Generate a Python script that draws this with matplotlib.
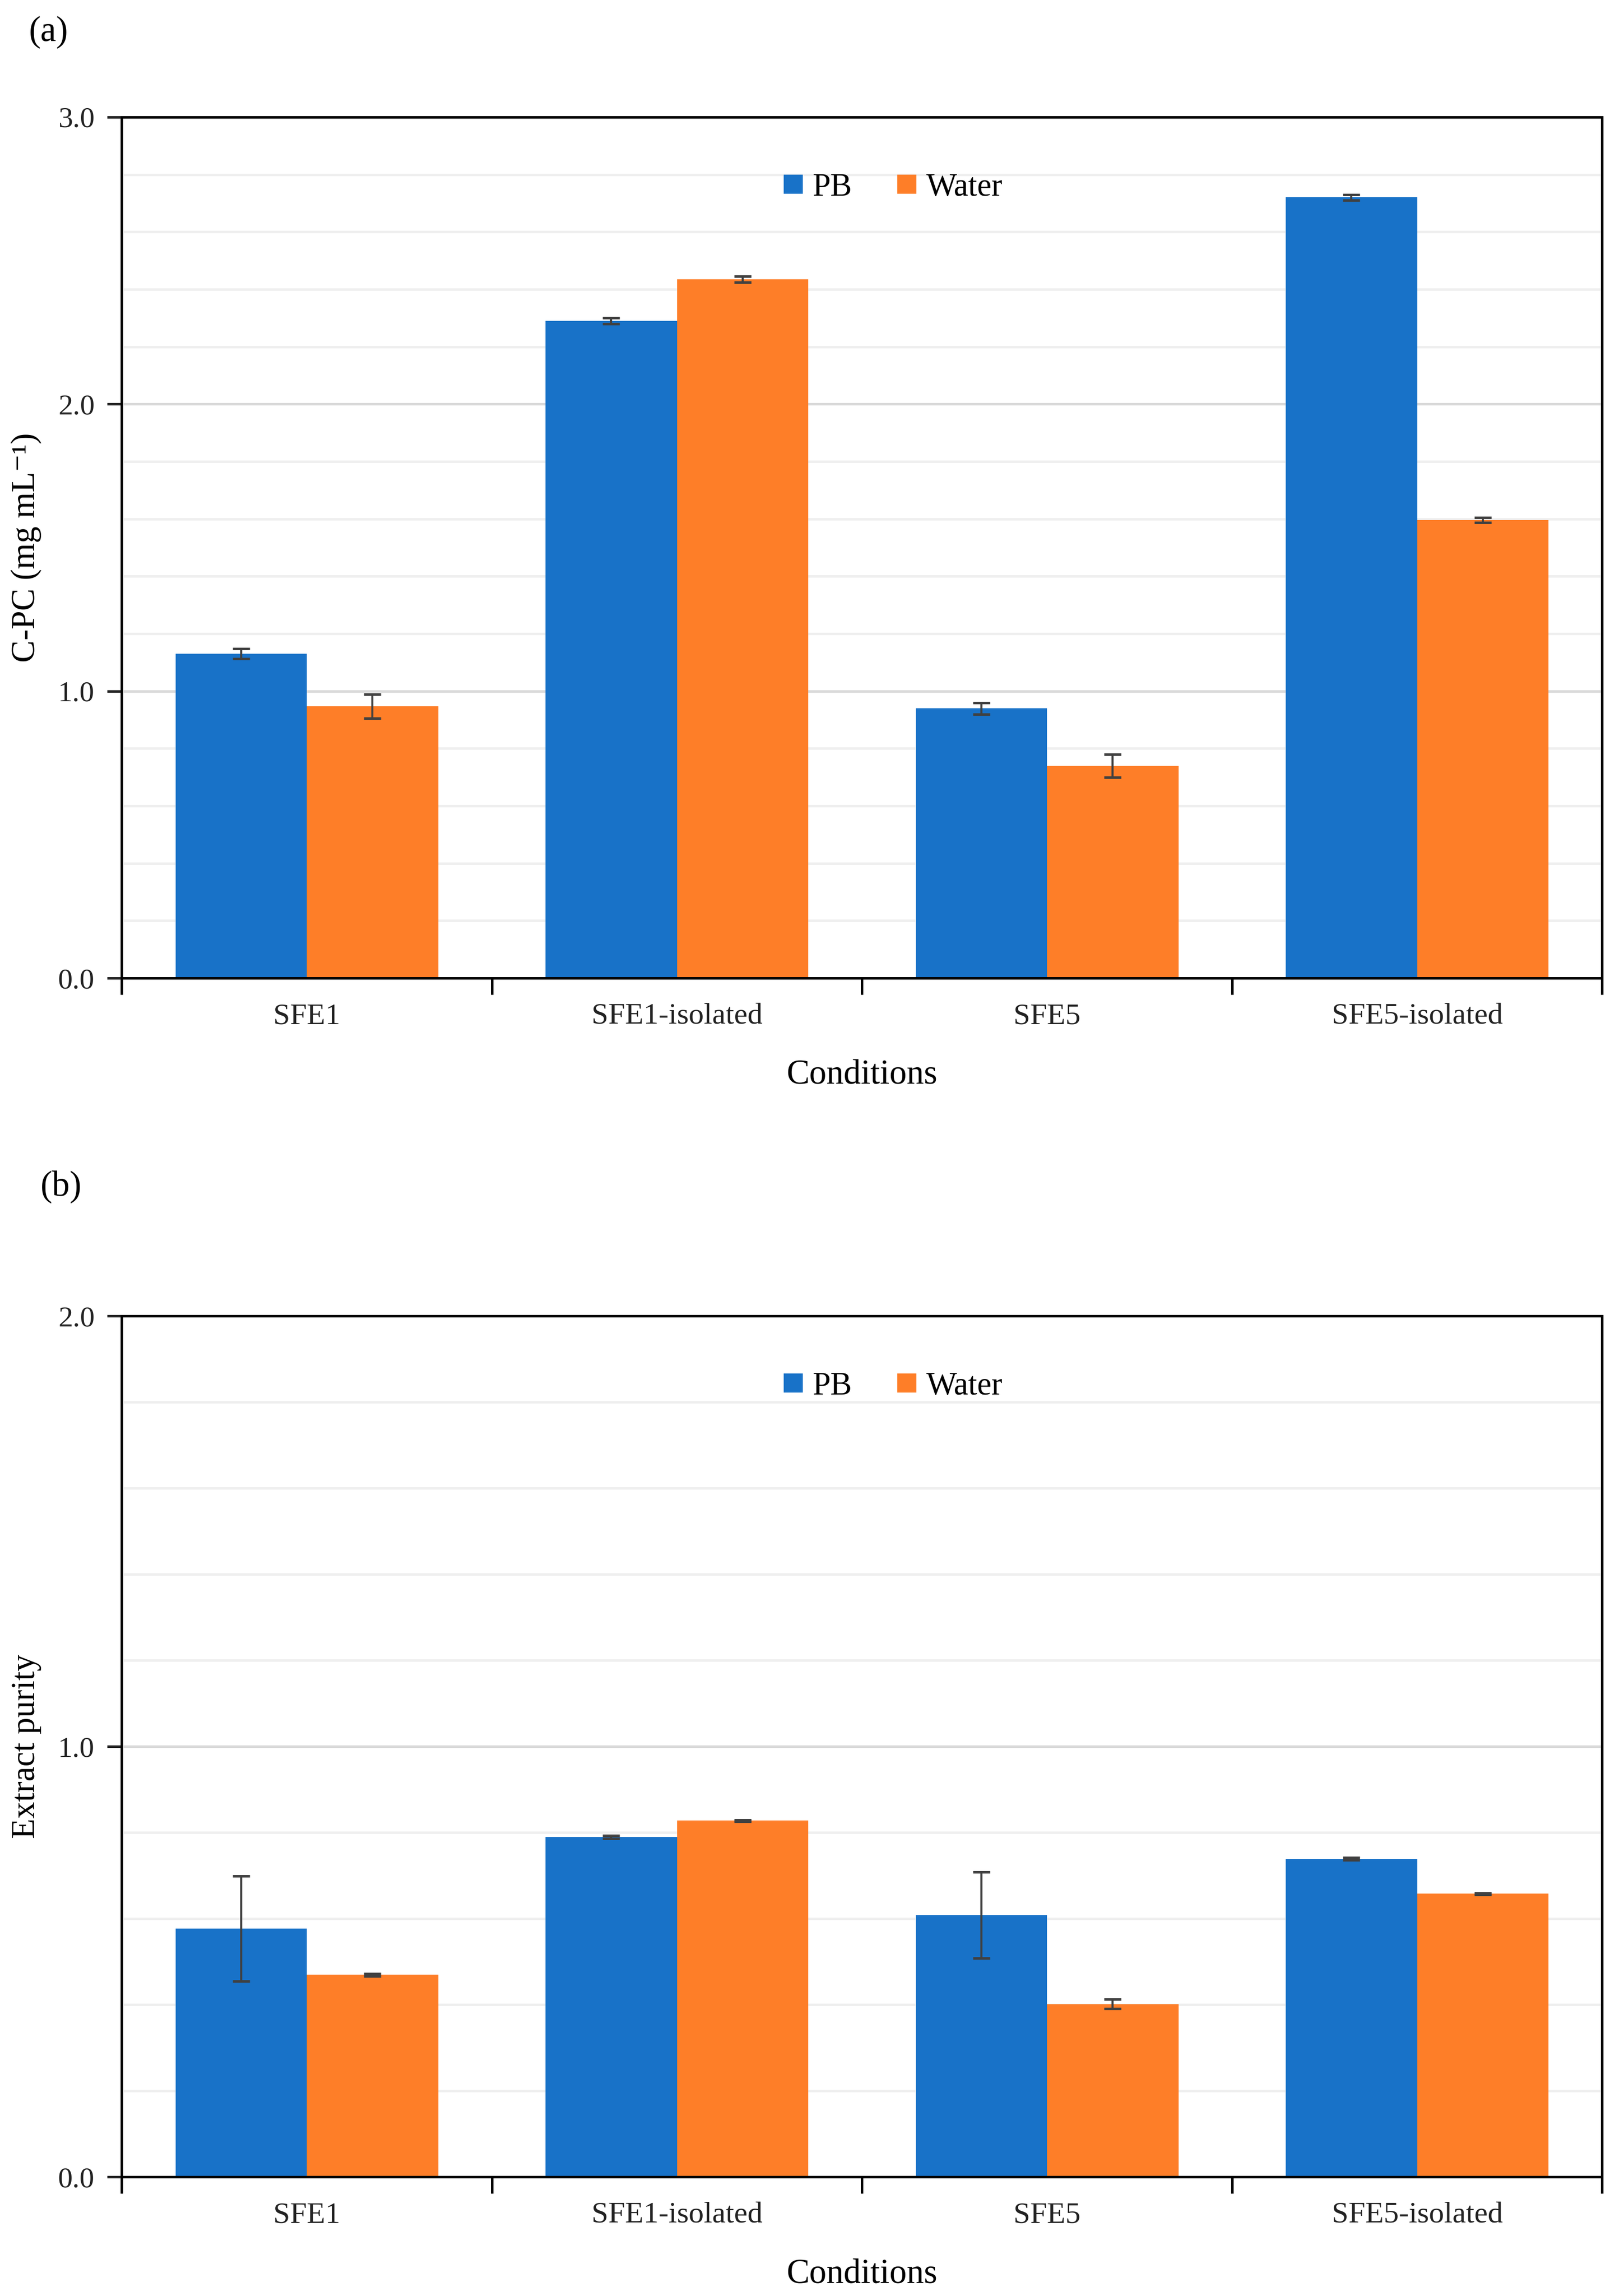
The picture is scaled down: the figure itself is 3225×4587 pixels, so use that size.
import matplotlib
matplotlib.use("Agg")
import matplotlib.pyplot as plt
import numpy as np
from matplotlib.ticker import MultipleLocator, FixedLocator, NullFormatter, FixedFormatter
from matplotlib.lines import Line2D

plt.rcParams["font.family"] = ["Liberation Serif", "DejaVu Serif"]

conditions = ["SFE1", "SFE1-isolated", "SFE5", "SFE5-isolated"]
series = ["PB", "Water"]

# panel (a): C-PC concentration
cpc_pb = [1.13, 2.29, 0.94, 2.72]
cpc_pb_err = [0.017, 0.01, 0.02, 0.01]
cpc_water = [0.947, 2.435, 0.74, 1.596]
cpc_water_err = [0.042, 0.01, 0.04, 0.008]

# panel (b): extract purity
pur_pb = [0.577, 0.79, 0.608, 0.739]
pur_pb_err = [0.122, 0.003, 0.10, 0.003]
pur_water = [0.470, 0.828, 0.402, 0.658]
pur_water_err = [0.003, 0.002, 0.011, 0.002]

BLUE = "#1872C8"
ORANGE = "#FE7E28"
ERR = "#404040"

fig = plt.figure(figsize=(10.75, 15.29), dpi=300)


def draw_panel(ax, pb, pb_err, water, water_err, ymax, ylabel):
    x = np.arange(len(conditions))
    w = 0.355
    ax.bar(x - w / 2, pb, w, color=BLUE, zorder=2)
    ax.bar(x + w / 2, water, w, color=ORANGE, zorder=2)
    ax.errorbar(x - w / 2, pb, yerr=pb_err, fmt="none", ecolor=ERR,
                elinewidth=1.0, capsize=4, capthick=1.2, zorder=3)
    ax.errorbar(x + w / 2, water, yerr=water_err, fmt="none", ecolor=ERR,
                elinewidth=1.0, capsize=4, capthick=1.2, zorder=3)

    ax.set_xlim(-0.5, len(conditions) - 0.5)
    ax.set_ylim(0, ymax)

    # y ticks / grid
    ax.yaxis.set_major_locator(MultipleLocator(1.0))
    ax.yaxis.set_minor_locator(MultipleLocator(0.2))
    ax.yaxis.set_major_formatter(plt.FuncFormatter(lambda v, p: f"{v:.1f}"))
    ax.grid(axis="y", which="minor", color="#EFEFEF", linewidth=1.2, zorder=0)
    ax.grid(axis="y", which="major", color="#D9D9D9", linewidth=1.2, zorder=0)
    ax.set_axisbelow(True)
    ax.tick_params(axis="y", which="major", direction="out", length=7, width=1.2,
                   labelsize=14, colors="#222222", pad=6)
    ax.tick_params(axis="y", which="minor", length=0)

    # x ticks: marks at category boundaries, labels at centres
    ax.xaxis.set_major_locator(FixedLocator(np.arange(-0.5, len(conditions), 1.0)))
    ax.xaxis.set_major_formatter(NullFormatter())
    ax.xaxis.set_minor_locator(FixedLocator(x))
    ax.xaxis.set_minor_formatter(FixedFormatter(conditions))
    ax.tick_params(axis="x", which="major", direction="out", length=8, width=1.2)
    ax.tick_params(axis="x", which="minor", length=0, labelsize=14.5,
                   colors="#222222", pad=12)

    for s in ax.spines.values():
        s.set_color("black")
        s.set_linewidth(1.2)

    ax.set_xlabel("Conditions", fontsize=16.5, labelpad=14)
    ax.set_ylabel(ylabel, fontsize=16, labelpad=8)

    handles = [Line2D([], [], marker="s", linestyle="none", markersize=8,
                      markerfacecolor=c, markeredgecolor=c) for c in (BLUE, ORANGE)]
    ax.legend(handles, series, loc="center", bbox_to_anchor=(0.521, 0.918),
              ncol=2, frameon=False, fontsize=15.5, handlelength=0.6,
              handletextpad=0.3, columnspacing=1.4)


ax_a = fig.add_axes([0.0755, 0.574, 0.9172, 0.375])
draw_panel(ax_a, cpc_pb, cpc_pb_err, cpc_water, cpc_water_err, 3.0,
           "C-PC (mg mL\u207b\u00b9)")
ax_b = fig.add_axes([0.0755, 0.0518, 0.9172, 0.375])
draw_panel(ax_b, pur_pb, pur_pb_err, pur_water, pur_water_err, 2.0,
           "Extract purity")

fig.text(0.018, 0.986, "(a)", fontsize=17, va="center", ha="left")
fig.text(0.025, 0.483, "(b)", fontsize=17, va="center", ha="left")

fig.savefig("out.png", dpi=300, facecolor="white")
